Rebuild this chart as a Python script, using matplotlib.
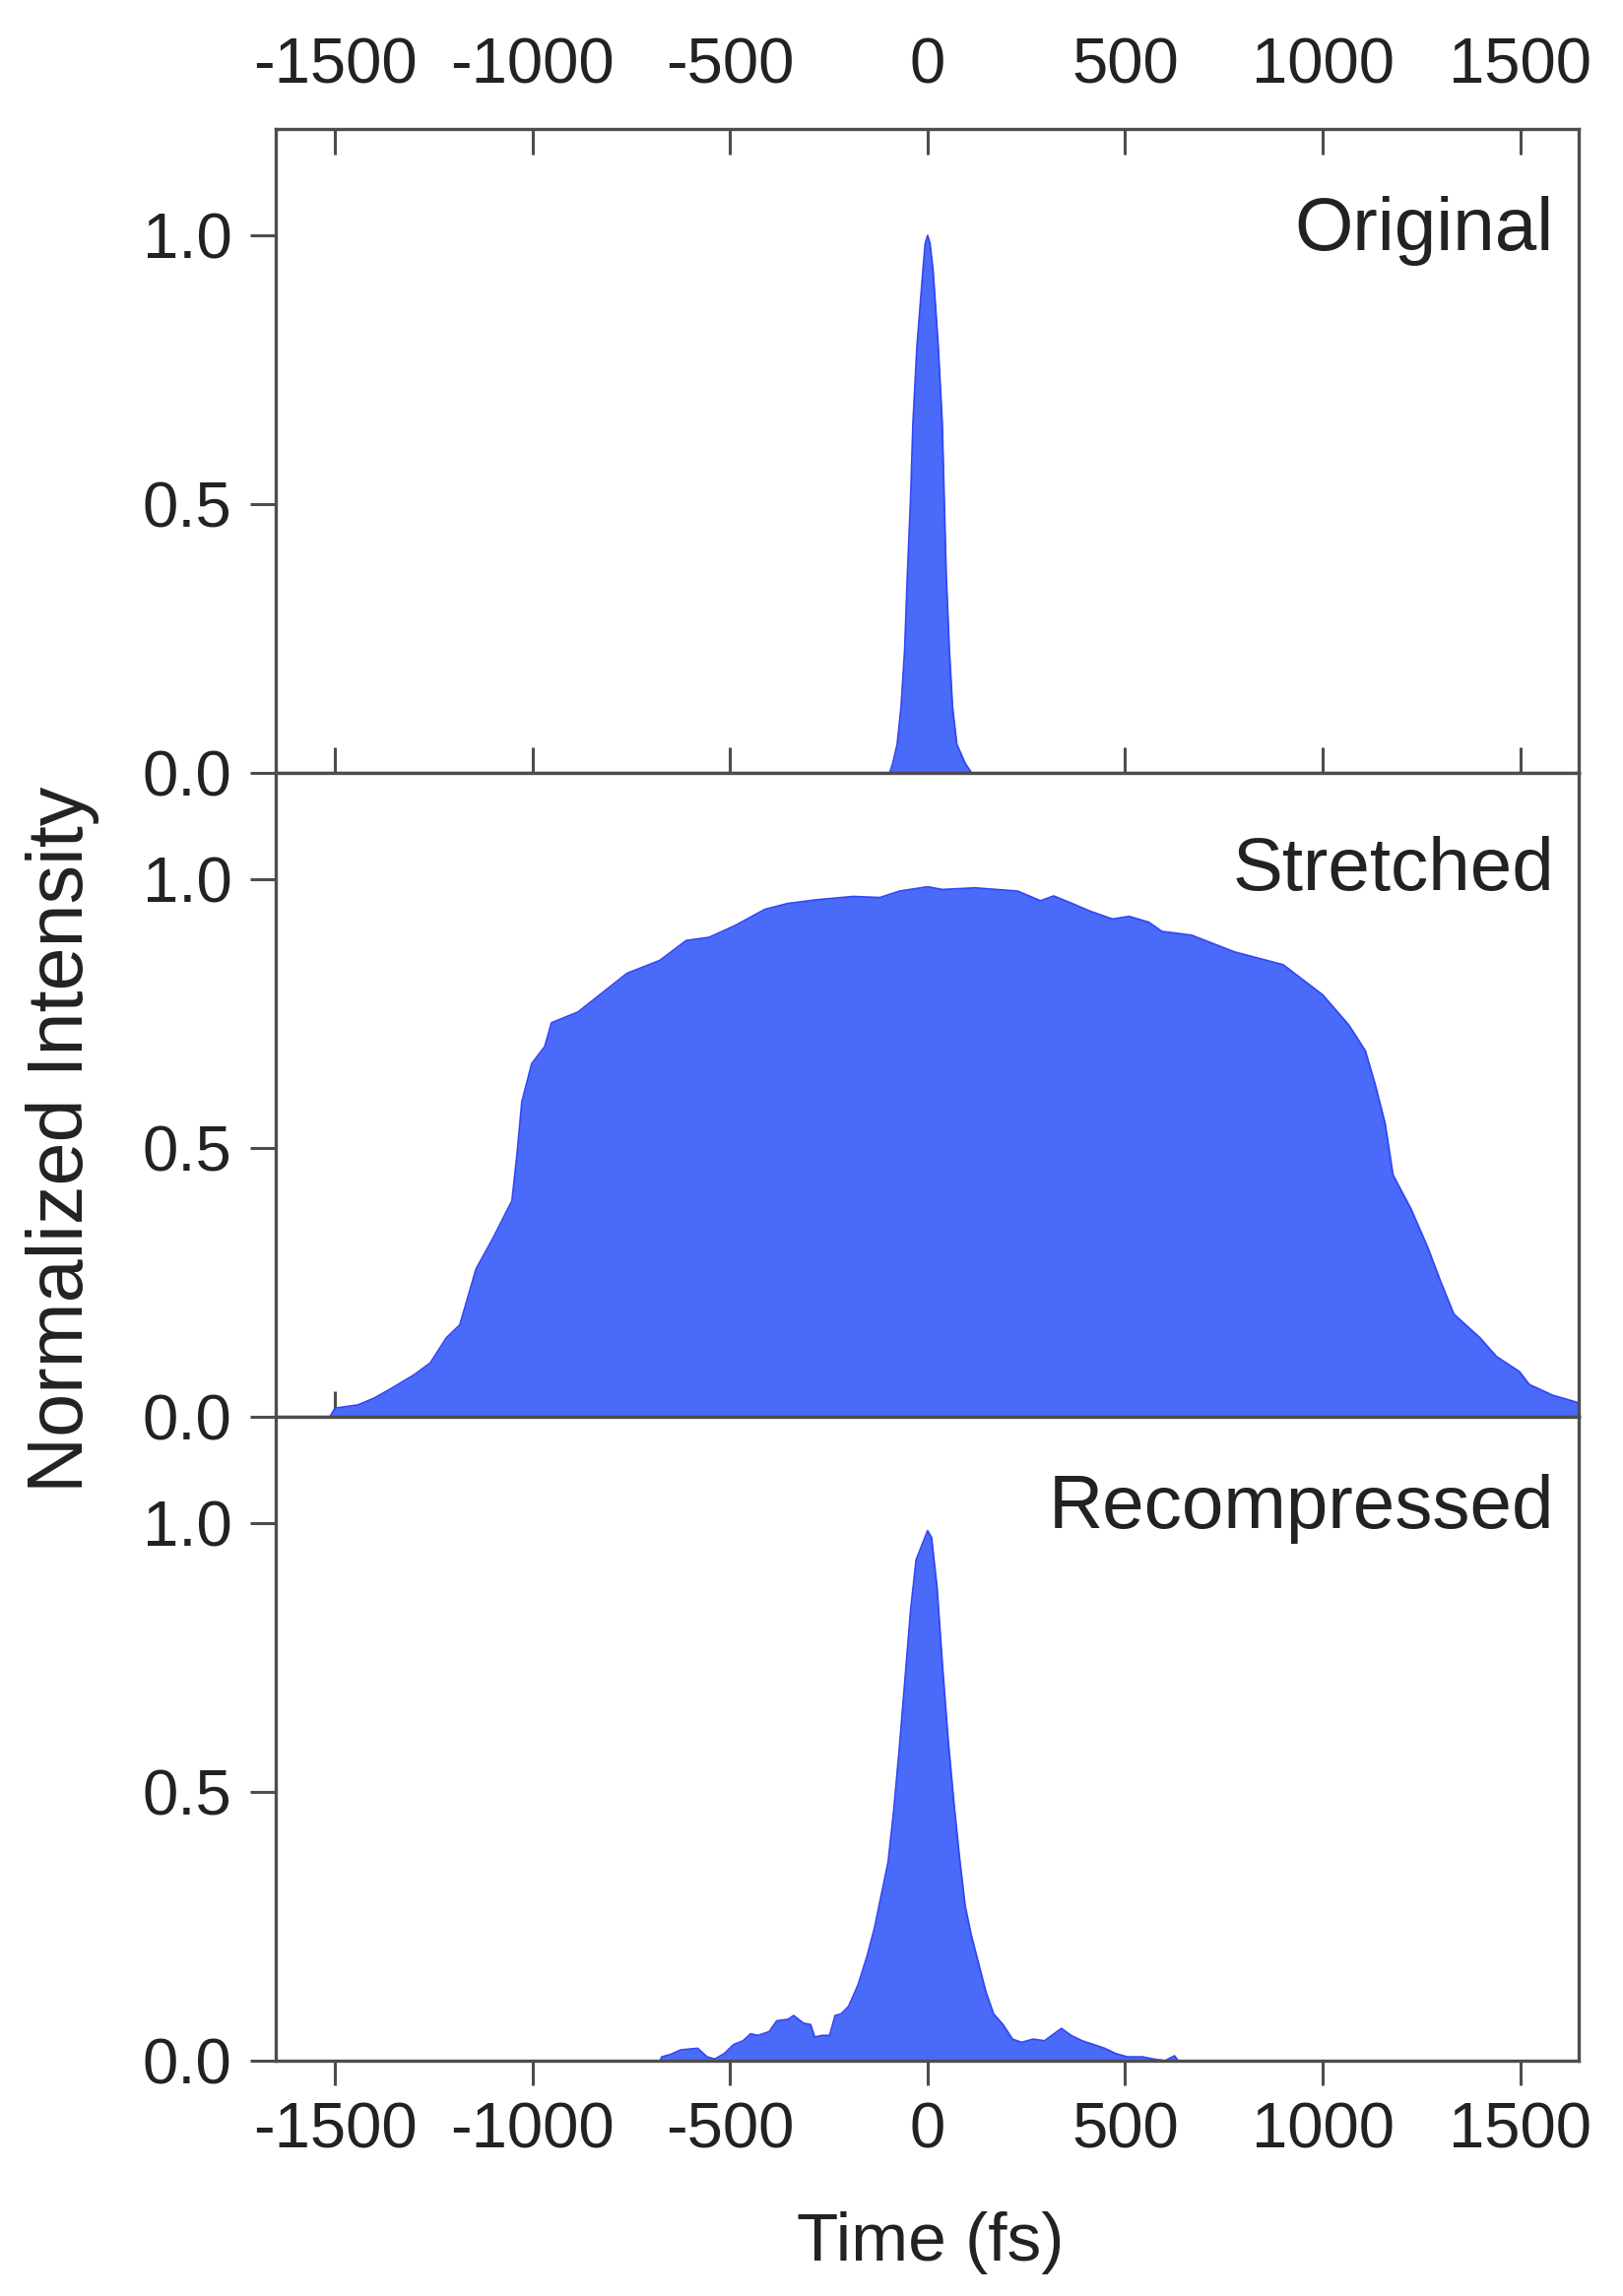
import matplotlib
matplotlib.use("Agg")
import matplotlib.pyplot as plt
from matplotlib import font_manager

# ---------------- data ----------------
orig_t = [-96, -88, -77, -67, -58, -51, -43, -37, -27, -12, -6, 0, 6, 14, 27, 37,
          42, 47, 55, 63, 74, 95, 111]
orig_v = [0.0, 0.018, 0.053, 0.123, 0.229, 0.37, 0.51, 0.651, 0.792, 0.933, 0.985,
          1.0, 0.985, 0.933, 0.792, 0.651, 0.51, 0.37, 0.229, 0.123, 0.053, 0.018, 0.0]

str_t = [-1513, -1500, -1442, -1400, -1359, -1300, -1259, -1218, -1184, -1143, -1101,
         -1052, -1039, -1027, -1002, -969, -952, -885, -761, -678, -611, -553, -487,
         -412, -354, -279, -188, -121, -71, 0, 37, 120, 228, 286, 319, 369, 410, 468,
         510, 560, 593, 668, 776, 900, 1000, 1066, 1108, 1133, 1158, 1178, 1224, 1266,
         1299, 1332, 1398, 1440, 1498, 1523, 1582, 1648]
str_v = [0.0, 0.016, 0.022, 0.035, 0.052, 0.078, 0.10, 0.147, 0.171, 0.275, 0.331,
         0.402, 0.49, 0.586, 0.657, 0.689, 0.733, 0.753, 0.825, 0.849, 0.886, 0.892,
         0.914, 0.944, 0.955, 0.962, 0.968, 0.966, 0.978, 0.986, 0.981, 0.984, 0.978,
         0.960, 0.969, 0.954, 0.941, 0.926, 0.931, 0.920, 0.903, 0.896, 0.865, 0.841,
         0.785, 0.729, 0.681, 0.618, 0.546, 0.45, 0.386, 0.315, 0.251, 0.191, 0.147,
         0.112, 0.084, 0.06, 0.04, 0.026]

rec_t = [-677, -673, -649, -625, -611, -582, -558, -539, -515, -491, -467, -448, -429,
         -401, -382, -353, -339, -315, -296, -286, -267, -248, -234, -219, -200, -176,
         -153, -134, -119, -100, -86, -72, -57, -43, -29, 0, 10, 24, 38, 52, 67, 81,
         95, 110, 129, 148, 167, 191, 215, 238, 267, 296, 320, 339, 363, 391, 420, 448,
         477, 506, 544, 572, 601, 625, 634]
rec_v = [0.0, 0.007, 0.012, 0.020, 0.021, 0.023, 0.007, 0.003, 0.013, 0.030, 0.037,
         0.050, 0.047, 0.054, 0.074, 0.077, 0.084, 0.070, 0.067, 0.044, 0.047, 0.047,
         0.084, 0.087, 0.101, 0.141, 0.195, 0.248, 0.302, 0.369, 0.463, 0.577, 0.711,
         0.838, 0.932, 0.986, 0.973, 0.879, 0.731, 0.597, 0.476, 0.376, 0.288, 0.235,
         0.181, 0.127, 0.087, 0.067, 0.040, 0.034, 0.040, 0.037, 0.050, 0.060, 0.047,
         0.037, 0.030, 0.023, 0.013, 0.007, 0.007, 0.003, 0.0, 0.009, 0.0]

panel_names = ["Original", "Stretched", "Recompressed"]
x_ticks = [-1500, -1000, -500, 0, 500, 1000, 1500]
y_ticks = [0.0, 0.5, 1.0]
y_ticklabels = ["0.0", "0.5", "1.0"]
xlabel = "Time (fs)"
ylabel = "Normalized Intensity"

# ---------------- style ----------------
names = {f.name for f in font_manager.fontManager.ttflist}
narrow = "Liberation Sans Narrow" in names
tick_family = ["Liberation Sans Narrow", "DejaVu Sans"] if narrow else ["Liberation Sans", "DejaVu Sans"]
tick_size = 56 if narrow else 47
text_family = ["Liberation Sans", "DejaVu Sans"]

FILL = "#4a6afa"
EDGE = "#3347f2"
SPINE = "#4d4d4d"
TEXT = "#222222"

W, H = 1648, 2332
fig = plt.figure(figsize=(W / 100, H / 100), dpi=100)
fig.patch.set_facecolor("white")

left, right = 280 / W, 1603 / W
panel_tops = [131, 785, 1439]
panel_h = 654

series = [(orig_t, orig_v), (str_t, str_v), (rec_t, rec_v)]
label_y = [0.812, 0.818, 0.827]

axes = []
for i, (t, v) in enumerate(series):
    top = panel_tops[i]
    ax = fig.add_axes([left, 1 - (top + panel_h) / H, right - left, panel_h / H])
    axes.append(ax)
    ax.set_xlim(-1650, 1648)
    ax.set_ylim(0, 1.198)
    ax.fill_between(t, v, 0, color=FILL, lw=0, zorder=3)
    ax.plot(t, v, color=EDGE, lw=1.3, zorder=3.1)
    for s in ax.spines.values():
        s.set_color(SPINE)
        s.set_linewidth(2.4)
        s.set_zorder(4)
    ax.set_yticks(y_ticks)
    ax.set_yticklabels(y_ticklabels, family=tick_family, fontsize=tick_size, color=TEXT)
    ax.tick_params(axis="y", which="major", direction="out", length=19, width=2.2,
                   color=SPINE, pad=13, left=True, right=False)
    ax.set_xticks(x_ticks)
    ax.set_xticklabels([str(x) for x in x_ticks], family=tick_family,
                       fontsize=tick_size, color=TEXT)
    ax.text(0.981, label_y[i], panel_names[i], transform=ax.transAxes,
            ha="right", va="baseline", fontsize=55, family=text_family,
            color=TEXT, zorder=5)

# top panel: ticks inside on top (labelled) and bottom
a0 = axes[0]
a0.tick_params(axis="x", direction="in", length=19, width=2.2, color=SPINE,
               top=True, bottom=True, labeltop=True, labelbottom=False, pad=24)
# middle panel: inward bottom ticks only, no labels
a1 = axes[1]
a1.tick_params(axis="x", direction="in", length=19, width=2.2, color=SPINE,
               top=False, bottom=True, labeltop=False, labelbottom=False)
# bottom panel: outward bottom ticks with labels
a2 = axes[2]
a2.tick_params(axis="x", direction="out", length=18, width=2.2, color=SPINE,
               top=False, bottom=True, labeltop=False, labelbottom=True, pad=12)

fig.text(64 / W, 1 - 1157 / H, ylabel, rotation=90, ha="center", va="center",
         fontsize=57, family=text_family, color=TEXT)
fig.text(945 / W, 1 - 2278 / H, xlabel, ha="center", va="center",
         fontsize=50, family=text_family, color=TEXT)

fig.savefig("out.png", dpi=100, facecolor="white")
